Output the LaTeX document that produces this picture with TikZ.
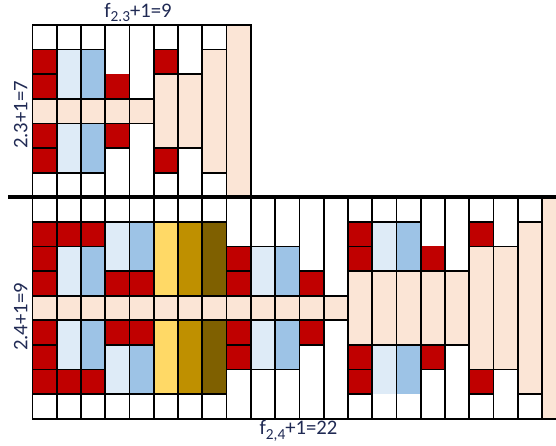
\documentclass[tikz,border=0pt]{standalone}
\usepackage{fontspec}
\setmainfont{Carlito}
\definecolor{crim}{RGB}{192,0,0}
\definecolor{skyl}{RGB}{222,235,247}
\definecolor{skym}{RGB}{157,195,230}
\definecolor{peach}{RGB}{251,229,214}
\definecolor{gold1}{RGB}{255,217,102}
\definecolor{gold2}{RGB}{191,144,0}
\definecolor{gold3}{RGB}{127,96,0}
\definecolor{ink}{RGB}{32,42,84}
\tikzset{tile/.style={draw,line width=1.3pt}}
\newcommand{\sublab}[1]{\raisebox{-.45ex}{\fontsize{11.5}{12}\selectfont #1}}

\begin{document}
\begin{tikzpicture}[x=18.2pt,y=-18.45pt,font=\fontsize{15.5}{17}\selectfont,text=ink]
  \useasboundingbox (-1.335,-1.016) rectangle (21.57,17.07);
  \foreach \c/\r/\h/\col in {0/0/1/white,0/1/1/crim,0/2/1/crim,0/3/1/peach,0/4/1/crim,0/5/1/crim,0/6/1/white,
      1/0/1/white,1/1/2/skyl,1/3/1/peach,1/4/2/skyl,1/6/1/white,
      2/0/1/white,2/1/2/skym,2/3/1/peach,2/4/2/skym,2/6/1/white,
      3/3/1/peach,3/4/1/crim,3/5/2/white,
      4/0/3/white,4/3/1/peach,4/4/3/white,
      5/0/1/white,5/1/1/crim,5/2/3/peach,5/5/1/crim,5/6/1/white,
      6/0/2/white,6/2/3/peach,6/5/2/white,
      7/0/1/white,7/1/5/peach,7/6/1/white,
      8/0/7/peach}
    \filldraw[tile,fill=\col] (\c,\r) rectangle ++(1,\h);
  \foreach \c/\r/\h/\fr/\fh/\col in {3/0/3/2/1/crim} {
    \fill[white] (\c,\r) rectangle ++(1,\h);
    \fill[\col] (\c,\fr) rectangle ++(1,\fh);
    \draw[tile] (\c,\r) rectangle ++(1,\h);
  }
  \begin{scope}[shift={(0,7)}]
    \foreach \c/\r/\h/\col in {0/0/1/white,0/1/1/crim,0/2/1/crim,0/3/1/crim,0/4/1/peach,0/5/1/crim,0/6/1/crim,0/7/1/crim,0/8/1/white,
        1/0/1/white,1/1/1/crim,1/2/2/skyl,1/4/1/peach,1/5/2/skyl,1/7/1/crim,1/8/1/white,
        2/0/1/white,2/1/1/crim,2/2/2/skym,2/4/1/peach,2/5/2/skym,2/7/1/crim,2/8/1/white,
        3/0/1/white,3/1/2/skyl,3/3/1/crim,3/4/1/peach,3/5/1/crim,3/6/2/skyl,3/8/1/white,
        4/0/1/white,4/1/2/skym,4/3/1/crim,4/4/1/peach,4/5/1/crim,4/6/2/skym,4/8/1/white,
        5/0/1/white,5/1/3/gold1,5/4/1/peach,5/5/3/gold1,5/8/1/white,
        6/0/1/white,6/1/3/gold2,6/4/1/peach,6/5/3/gold2,6/8/1/white,
        7/0/1/white,7/1/3/gold3,7/4/1/peach,7/5/3/gold3,7/8/1/white,
        8/0/2/white,8/2/1/crim,8/3/1/crim,8/4/1/peach,8/5/1/crim,8/6/1/crim,8/7/2/white,
        9/0/2/white,9/2/2/skyl,9/4/1/peach,9/5/2/skyl,9/7/2/white,
        10/0/2/white,10/2/2/skym,10/4/1/peach,10/5/2/skym,10/7/2/white,
        11/0/3/white,11/3/1/crim,11/4/1/peach,11/5/1/crim,11/6/3/white,
        12/0/4/white,12/4/1/peach,12/5/4/white,
        13/0/1/white,13/1/1/crim,13/2/1/crim,13/3/3/peach,13/6/1/crim,13/7/1/crim,13/8/1/white,
        14/0/1/white,14/1/2/skyl,14/3/3/peach,
        15/0/1/white,15/1/2/skym,15/3/3/peach,
        16/3/3/peach,16/6/1/crim,16/7/2/white,
        17/0/3/white,17/3/3/peach,17/6/3/white,
        18/0/1/white,18/1/1/crim,18/2/5/peach,18/7/1/crim,18/8/1/white,
        19/0/2/white,19/2/5/peach,19/7/2/white,
        20/0/1/white,20/1/7/peach,20/8/1/white,
        21/0/9/peach}
      \filldraw[tile,fill=\col] (\c,\r) rectangle ++(1,\h);
    \foreach \c/\r/\h/\fr/\fh/\col in {16/0/3/2/1/crim,14/6/3/6/2/skyl,15/6/3/6/2/skym} {
      \fill[white] (\c,\r) rectangle ++(1,\h);
      \fill[\col] (\c,\fr) rectangle ++(1,\fh);
      \draw[tile] (\c,\r) rectangle ++(1,\h);
    }
  \end{scope}
  \coordinate (sepL) at (-1.005,7);
  \coordinate (sepR) at (21.6,7);
  \draw[line width=3pt] (sepL) -- (sepR);
  \node (toplab) at (4.35,-0.52) {f\sublab{2.3}+1=9};
  \node (botlab) at (10.96,16.5) {f\sublab{2,4}+1=22};
  \node[rotate=90] (rowtop) at (-0.48,3.66) {2.3+1=7};
  \node[rotate=90] (rowbot) at (-0.48,11.86) {2.4+1=9};
\end{tikzpicture}
\end{document}
